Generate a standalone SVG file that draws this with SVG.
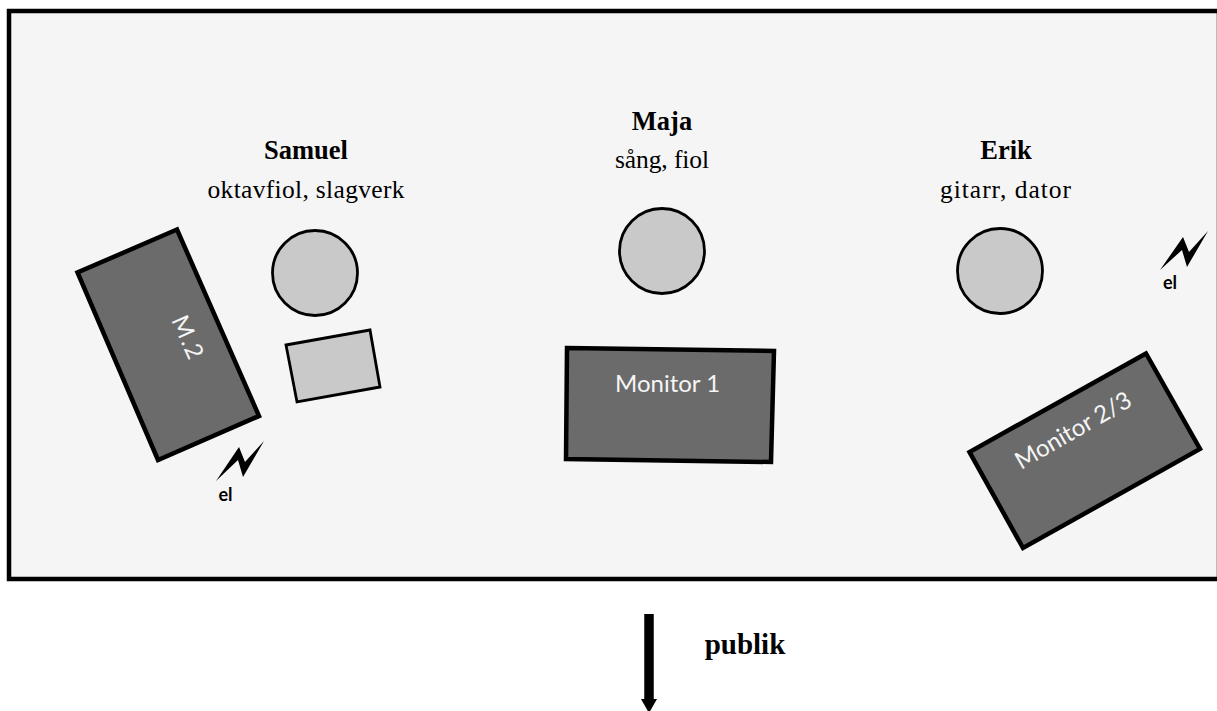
<svg xmlns="http://www.w3.org/2000/svg" width="1217" height="711" viewBox="0 0 1217 711">
<style>
.s{font-family:"Liberation Serif","Times New Roman",serif;font-size:25.5px;fill:#000;text-anchor:middle}
.b{font-weight:700;font-size:26.5px}
.m{font-family:Lato,"Noto Sans",sans-serif;font-size:24px;fill:#f5f5f5;font-weight:400}
.e{font-family:Lato,"Noto Sans",sans-serif;font-size:18px;font-weight:700;fill:#000;text-anchor:middle}
.d{fill:#6b6b6b;stroke:#000;stroke-width:4.5}
.l{fill:#c9c9c9;stroke:#000;stroke-width:2.8}
</style>
<rect width="1217" height="711" fill="#fff"/>
<rect id="stage" x="9" y="11" width="1210" height="568" fill="#f5f5f5" stroke="#000" stroke-width="4.5"/>
<g id="samuel"><text class="s b" x="306" y="159">Samuel</text><text class="s" x="306" y="198" textLength="197">oktavfiol, slagverk</text><circle class="l" cx="315" cy="273" r="42.5"/></g>
<g id="maja"><text class="s b" x="662" y="130">Maja</text><text class="s" x="662" y="168" textLength="94">sång, fiol</text><circle class="l" cx="662" cy="251" r="42.5"/></g>
<g id="erik"><text class="s b" x="1006" y="159">Erik</text><text class="s" x="1005.5" y="198" textLength="131">gitarr, dator</text><circle class="l" cx="1000" cy="271" r="42.5"/></g>
<g id="m2"><polygon class="d" points="177,229.5 77.5,272.5 158,460 259,416"/><text class="m" transform="translate(171,320) rotate(66)" letter-spacing="1.5">M.2</text></g>
<g id="box"><polygon class="l" points="286,345 370,330 380,387 297,402"/></g>
<g id="monitor1"><polygon class="d" points="567,348 774,351 771,462 566,459"/><text class="m" x="615" y="392">Monitor 1</text></g>
<g id="monitor23"><polygon class="d" points="1146,353.5 969.5,452 1023,548 1200,449"/><text class="m" transform="translate(1021,470) rotate(-30)">Monitor 2/3</text></g>
<g id="el1"><polygon points="264,441 243,477 238,460 216,481 239,447 245,462" fill="#000"/><text class="e" x="225.5" y="501">el</text></g>
<g id="el2"><polygon points="1208,231 1187,267 1182,250 1160,270 1183,237 1189,252" fill="#000"/><text class="e" x="1170" y="289">el</text></g>
<g id="connectors"><path d="M649 614V700" stroke="#000" stroke-width="9.5" fill="none"/><polygon points="641,699 657,699 649,713" fill="#000"/></g>
<text class="s b" x="745" y="654" style="font-size:29px">publik</text>
</svg>
